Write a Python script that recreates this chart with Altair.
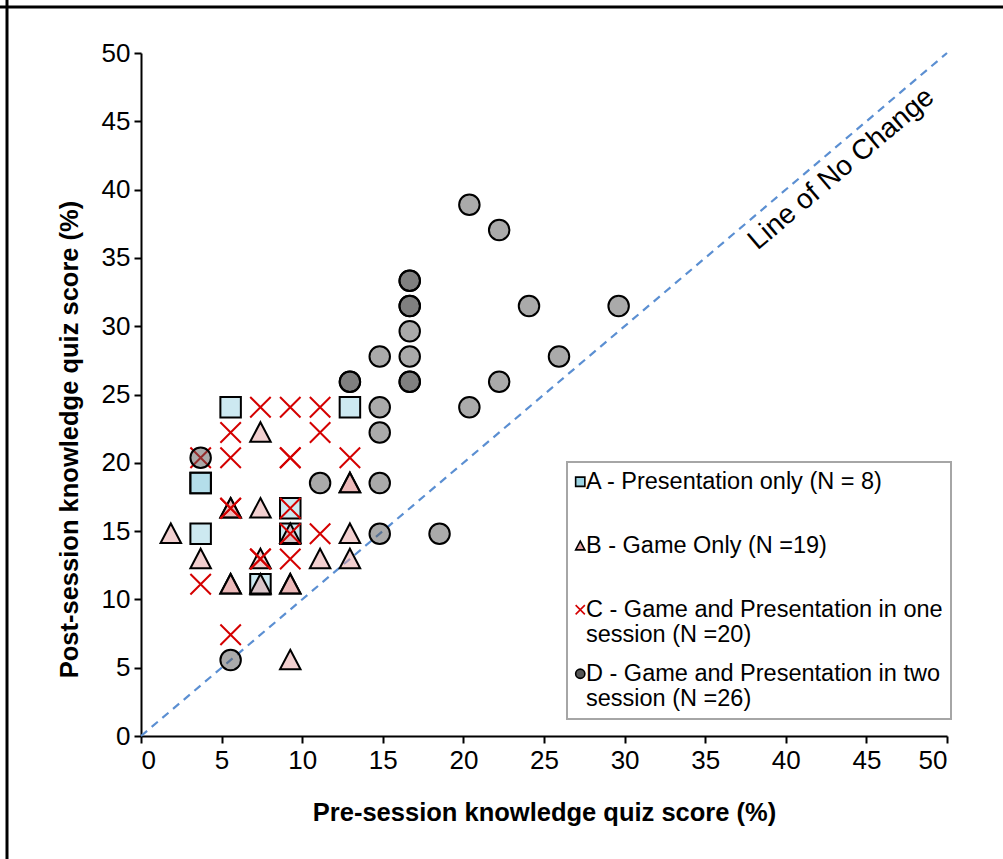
import altair as alt
import pandas as pd

# ---------------- data ----------------
group_names = [
    "A - Presentation only (N = 8)",
    "B - Game Only (N =19)",
    "C - Game and Presentation in one|session (N =20)",
    "D - Game and Presentation in two|session (N =26)",
]

a_pre = [5.56, 12.96, 3.70, 3.70, 9.26, 3.70, 9.26, 7.41]
a_post = [24.07, 24.07, 18.52, 18.52, 16.67, 14.81, 14.81, 11.11]

b_pre = [7.41, 12.96, 12.96, 5.56, 5.56, 7.41, 1.85, 9.26, 12.96, 3.70,
         7.41, 11.11, 12.96, 5.56, 5.56, 7.41, 9.26, 9.26, 9.26]
b_post = [22.22, 18.52, 18.52, 16.67, 16.67, 16.67, 14.81, 14.81, 14.81, 12.96,
          12.96, 12.96, 12.96, 11.11, 11.11, 11.11, 11.11, 11.11, 5.56]

c_pre = [7.41, 9.26, 11.11, 5.56, 11.11, 3.70, 5.56, 9.26, 12.96, 5.56,
         9.26, 9.26, 11.11, 7.41, 9.26, 3.70, 5.56, 9.26, 7.41, 5.56]
c_post = [24.07, 24.07, 24.07, 22.22, 22.22, 20.37, 20.37, 20.37, 20.37, 16.67,
          16.67, 14.81, 14.81, 12.96, 12.96, 11.11, 7.41, 20.37, 12.96, 16.67]

d_pre = [20.37, 22.22, 16.67, 16.67, 16.67, 16.67, 16.67, 16.67, 16.67, 16.67,
         14.81, 12.96, 12.96, 24.07, 29.63, 25.93, 22.22, 20.37, 14.81, 14.81,
         11.11, 14.81, 14.81, 18.52, 3.70, 5.56]
d_post = [38.89, 37.04, 33.33, 33.33, 31.48, 31.48, 29.63, 27.78, 25.93, 25.93,
          27.78, 25.93, 25.93, 31.48, 31.48, 27.78, 25.93, 24.07, 24.07, 22.22,
          18.52, 18.52, 14.81, 14.81, 20.37, 5.56]

line_x = [0, 50]
line_y = [0, 50]

ann_x = [43.45]
ann_y = [41.5]
ann_text = ["Line of No Change"]

axis_ticks = [0, 5, 10, 15, 20, 25, 30, 35, 40, 45, 50]

# ---------------- tables ----------------
rows = []
for name, xs, ys in zip(group_names, [a_pre, b_pre, c_pre, d_pre], [a_post, b_post, c_post, d_post]):
    for x, y in zip(xs, ys):
        rows.append({"group": name, "pre": x, "post": y})
points_df = pd.DataFrame(rows)
line_df = pd.DataFrame({"pre": line_x, "post": line_y})
ann_df = pd.DataFrame({"pre": ann_x, "post": ann_y, "text": ann_text})

FONT = "Liberation Sans"
W, H = 806, 683

x_scale = alt.Scale(domain=[0, 50], nice=False, zero=False)
y_scale = alt.Scale(domain=[0, 50], nice=False, zero=False)

x_axis = alt.Axis(values=axis_ticks, title="Pre-session knowledge quiz score (%)", titlePadding=27)
y_axis = alt.Axis(values=axis_ticks, title="Post-session knowledge quiz score (%)", titlePadding=19,
                  titleY=386)

X_PATH = "M-1,-1L1,1M-1,1L1,-1"
TRI_PATH = "M0,-1L1,0.9L-1,0.9Z"


def make_legend():
    return alt.Legend(
        orient="none", legendX=426, legendY=409, title=None,
        labelExpr="split(datum.value, '|')",
        labelFont=FONT, labelFontSize=23.5, labelColor="black",
        labelLimit=600, labelBaseline="middle",
        symbolSize=85, symbolStrokeWidth=1.6,
        gridAlign="all", rowPadding=14,
        labelOffset={"expr": "-6"}, symbolOffset={"expr": "-6.5"},
        padding=8, fillColor="white", strokeColor="#a6a6a6",
    )


diag = alt.Chart(line_df).mark_line(
    color="#5b8fd2", strokeWidth=2.2, strokeDash=[8, 6]
).encode(
    x=alt.X("pre:Q", scale=x_scale, axis=x_axis),
    y=alt.Y("post:Q", scale=y_scale, axis=y_axis),
)

pts = alt.Chart(points_df).mark_point(
    filled=False, strokeWidth=2, fillOpacity=0.5, opacity=1, size=420
).encode(
    x=alt.X("pre:Q", scale=x_scale),
    y=alt.Y("post:Q", scale=y_scale),
    shape=alt.Shape("group:N", scale=alt.Scale(domain=group_names,
                                               range=["square", TRI_PATH, X_PATH, "circle"]),
                    legend=make_legend()),
    fill=alt.Fill("group:N", scale=alt.Scale(domain=group_names,
                                             range=["#9bd3e3", "#e5a1a1", "transparent", "#555555"]),
                  legend=make_legend()),
    stroke=alt.Stroke("group:N", scale=alt.Scale(domain=group_names,
                                                 range=["black", "black", "#d40000", "black"]),
                      legend=make_legend()),
    order=alt.Order("group:N"),
)

ann = alt.Chart(ann_df).mark_text(
    angle=319.7, font=FONT, fontSize=28, color="black", align="center", baseline="middle"
).encode(
    x=alt.X("pre:Q", scale=x_scale),
    y=alt.Y("post:Q", scale=y_scale),
    text="text:N",
)

frame_data = alt.Data(values=[{"k": 1}])
frame_top = alt.Chart(frame_data).mark_rule(color="black", strokeWidth=3).encode(
    x=alt.value(-141), x2=alt.value(862), y=alt.value(-46)
)
frame_left = alt.Chart(frame_data).mark_rule(color="black", strokeWidth=3).encode(
    x=alt.value(-134), y=alt.value(-53), y2=alt.value(806)
)

chart = alt.layer(diag, pts, ann, frame_top, frame_left).properties(
    width=W, height=H,
    autosize=alt.AutoSizeParams(type="none"),
    padding={"left": 141, "top": 53, "right": 56, "bottom": 123},
    background="white",
).configure_view(stroke=None).configure_axis(
    grid=False,
    domainColor="black", domainWidth=2,
    tickColor="black", tickWidth=2, tickSize=7,
    labelFont=FONT, labelFontSize=26, labelColor="black", labelPadding=4,
    titleFont=FONT, titleFontSize=25.5, titleFontWeight="bold", titleColor="black",
).configure_legend(strokeWidth=2)

chart.save("out.html", embed_options={"renderer": "svg", "actions": False})
